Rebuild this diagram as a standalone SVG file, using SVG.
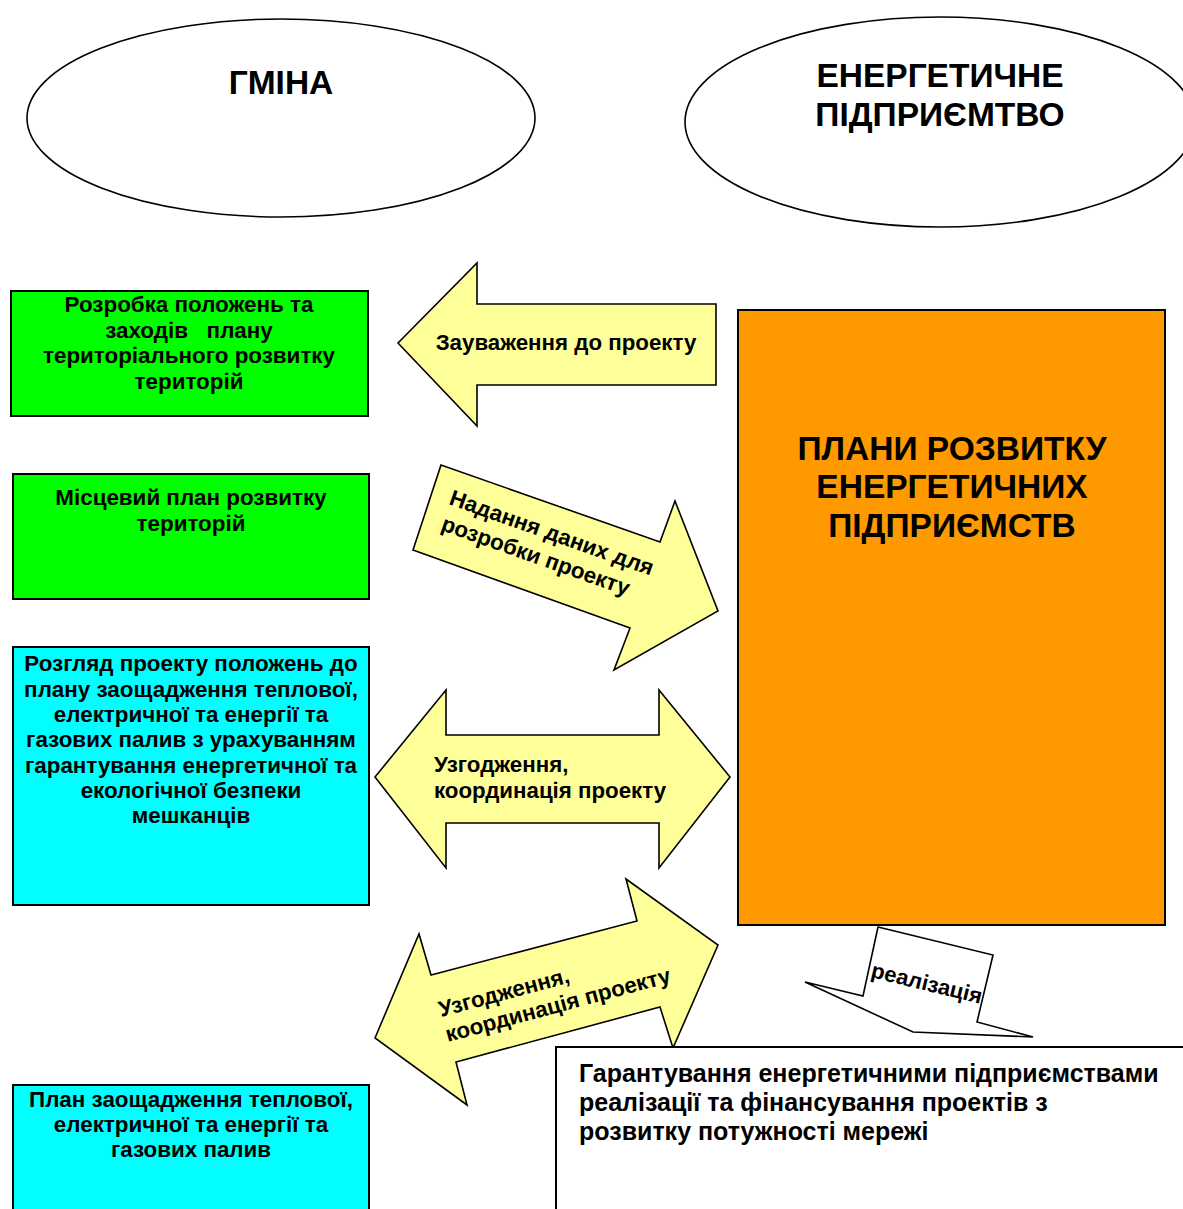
<svg xmlns="http://www.w3.org/2000/svg" width="1183" height="1209" viewBox="0 0 1183 1209">
<style>
text{font-family:"Liberation Sans",Arial,sans-serif;font-weight:bold;fill:#000}
.box{stroke:#000;stroke-width:2}
.ell{fill:#fff;stroke:#000;stroke-width:1.6}
.arr{fill:#FFFF99;stroke:#000;stroke-width:1.6;stroke-linejoin:miter}
.big{font-size:33.5px;text-anchor:middle}
.t{font-size:22.4px;text-anchor:middle}
.a{font-size:22.3px}
.g{fill:#00FF00}
.c{fill:#00FFFF}
</style>
<rect width="1183" height="1209" fill="#fff"/>
<g id="gmina">
<ellipse class="ell" cx="281" cy="118" rx="254" ry="99"/>
<text class="big" x="281" y="94">ГМІНА</text>
</g>
<g id="energy">
<ellipse class="ell" cx="940" cy="122" rx="255" ry="105"/>
<text class="big" x="940" y="87">ЕНЕРГЕТИЧНЕ</text>
<text class="big" x="940" y="126">ПІДПРИЄМТВО</text>
</g>
<g id="box1">
<rect class="box g" x="11" y="291" width="357" height="125"/>
<text class="t" x="189" y="312">Розробка положень та</text>
<text class="t" x="189" y="338" xml:space="preserve">заходів   плану</text>
<text class="t" x="189" y="363">територіального розвитку</text>
<text class="t" x="189" y="389">територій</text>
</g>
<g id="box2">
<rect class="box g" x="13" y="474" width="356" height="125"/>
<text class="t" x="191" y="505">Місцевий план розвитку</text>
<text class="t" x="191" y="531">територій</text>
</g>
<g id="box3">
<rect class="box c" x="13" y="647" width="356" height="258"/>
<text class="t" x="191" y="671">Розгляд проекту положень до</text>
<text class="t" x="191" y="697">плану заощадження теплової,</text>
<text class="t" x="191" y="722">електричної та енергії та</text>
<text class="t" x="191" y="747">газових палив з урахуванням</text>
<text class="t" x="191" y="773">гарантування енергетичної та</text>
<text class="t" x="191" y="798">екологічної безпеки</text>
<text class="t" x="191" y="823">мешканців</text>
</g>
<g id="box4">
<rect class="box c" x="13" y="1085" width="356" height="130"/>
<text class="t" x="191" y="1107">План заощадження теплової,</text>
<text class="t" x="191" y="1132">електричної та енергії та</text>
<text class="t" x="191" y="1157">газових палив</text>
</g>
<g id="plans">
<rect class="box" fill="#FF9900" x="738" y="310" width="427" height="615"/>
<text class="big" x="952" y="460">ПЛАНИ РОЗВИТКУ</text>
<text class="big" x="952" y="498">ЕНЕРГЕТИЧНИХ</text>
<text class="big" x="952" y="537">ПІДПРИЄМСТВ</text>
</g>
<g id="connectors">
<g id="arrow-remarks">
<polygon class="arr" points="398,343 477,263 477,304 716,304 716,385 477,385 477,426"/>
<text class="a" x="566" y="350" text-anchor="middle">Зауваження до проекту</text>
</g>
<g id="arrow-data">
<polygon class="arr" points="441,465 660,542 675,501 718,611 614,670 630,628 413,550"/>
<g transform="translate(448,504) rotate(19.5)">
<text class="a" x="0" y="0">Надання даних для</text>
<text class="a" x="1" y="27">розробки проекту</text>
</g>
</g>
<g id="arrow-coord">
<polygon class="arr" points="375,777 446,690 446,735 659,735 659,690 730,777 659,868 659,823 446,823 446,868"/>
<text class="a" x="434" y="772">Узгодження,</text>
<text class="a" x="434" y="798">координація проекту</text>
</g>
<g id="arrow-coord2">
<polygon class="arr" points="375,1038 419,934 431,975 637,921 626,879 718,945 673,1048 660,1007 456,1062 467,1105"/>
<g transform="translate(441,1017) rotate(-15)">
<text class="a" x="0" y="0">Узгодження,</text>
<text class="a" x="0" y="26">координація проекту</text>
</g>
</g>
</g>
<g id="result">
<rect x="556" y="1047" width="640" height="180" fill="#fff" stroke="#000" stroke-width="2"/>
<text x="579" y="1082" font-size="25">Гарантування енергетичними підприємствами</text>
<text x="579" y="1111" font-size="25">реалізації та фінансування проектів з</text>
<text x="579" y="1140" font-size="25">розвитку потужності мережі</text>
</g>
<g id="arrow-realization">
<polygon points="878,927 993,955 977,1022 1033,1037 913,1032 805,982 863,996" fill="#fff" stroke="#000" stroke-width="1.6"/>
<text transform="translate(870,977) rotate(13.6)" font-size="22">реалізація</text>
</g>
</svg>
